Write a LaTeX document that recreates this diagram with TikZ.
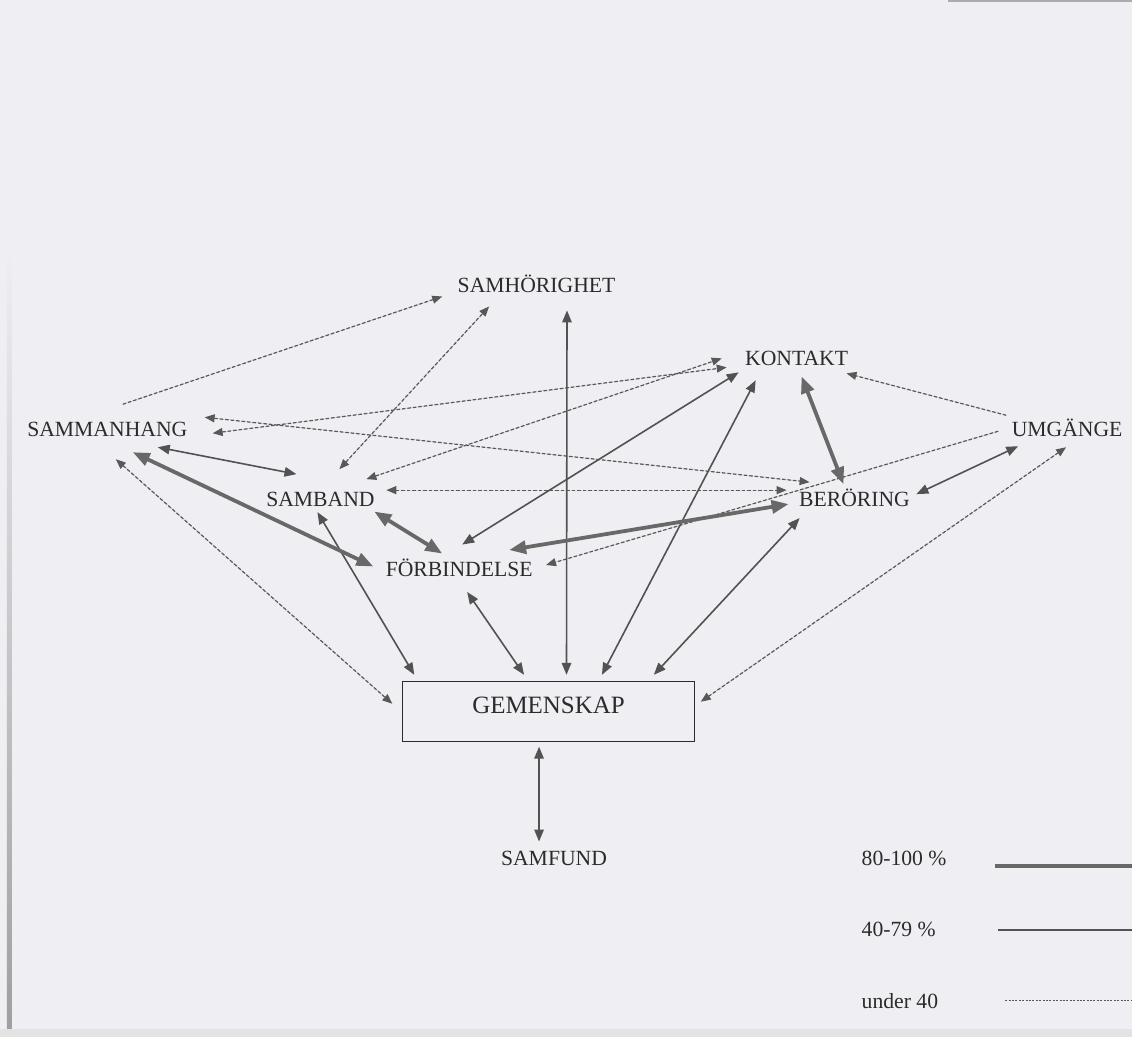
\documentclass[tikz,border=0pt]{standalone}
\usepackage{fontspec}
\setmainfont{Liberation Serif}
\usetikzlibrary{arrows.meta}
\definecolor{paper}{HTML}{EFEEF2}
\definecolor{ink}{HTML}{2B2B2B}
\definecolor{linegrey}{HTML}{525252}
\definecolor{thickgrey}{HTML}{686868}
\definecolor{dashgrey}{HTML}{585858}
\tikzset{
  lbl/.style={font=\fontsize{21.7}{24}\selectfont, text=ink, inner sep=0pt, text height=15pt, text depth=0pt},
  legtxt/.style={font=\fontsize{21.7}{24}\selectfont, text=ink, inner sep=0pt, anchor=base west},
  wtip/.tip={Triangle[length=10pt,width=8pt]},
  mtip/.tip={Triangle[length=12pt,width=9.5pt]},
  ttip/.tip={Triangle[length=17pt,width=13pt]},
  weak/.style={draw=dashgrey, fill=dashgrey, line width=1.2pt, dash pattern=on 3.5pt off 2pt},
  weakboth/.style={weak, wtip-wtip},
  weakend/.style={weak, -wtip},
  mid/.style={draw=linegrey, fill=linegrey, line width=1.6pt, mtip-mtip},
  strong/.style={draw=thickgrey, fill=thickgrey, line width=3.8pt, ttip-ttip},
}
\begin{document}
\begin{tikzpicture}[x=1pt,y=-1pt]
% paper
\fill[paper] (0,0) rectangle (1134,1039);
\shade[top color=paper, bottom color=gray!75] (7,250) rectangle (12,1031);
\fill[gray!22] (0,1031) rectangle (1134,1039);
\fill[gray!65] (950,0) rectangle (1134,2);

% nodes
\node[lbl] (sm) at (107.5,429.5) {SAMMANHANG};
\node[lbl] (sh) at (537.5,285.5) {SAMHÖRIGHET};
\node[lbl] (ko) at (798,358.5) {KONTAKT};
\node[lbl] (um) at (1069,429.5) {UMGÄNGE};
\node[lbl] (sb) at (321,499.5) {SAMBAND};
\node[lbl] (be) at (856,499.5) {BERÖRING};
\node[lbl] (fo) at (460,570.5) {FÖRBINDELSE};
\node[draw=ink, line width=1pt, minimum width=293pt, minimum height=60pt,
      font=\fontsize{25}{28}\selectfont, text=ink, text height=17pt, text depth=13pt,
      inner sep=0pt] (ge) at (549.5,713) {GEMENSKAP};
\node[lbl] (sf) at (555,859.5) {SAMFUND};

% under 40
\draw[weakend]  ([shift={(15.5,-24.5)}]sm.center) -- ([shift={(-94.5,11.5)}]sh.center);
\draw[weakboth] ([shift={(19,-29.5)}]sb.center) -- ([shift={(-47.5,21.5)}]sh.center);
\draw[weakboth] ([shift={(105.5,4.5)}]sm.center) -- ([shift={(-70,9.5)}]ko.center);
\draw[weakboth] ([shift={(46,-19.5)}]sb.center) -- ([shift={(-75,0.5)}]ko.center);
\draw[weakboth] ([shift={(97.5,-11.5)}]sm.center) -- ([shift={(-45,-16.5)}]be.center);
\draw[weakboth] ([shift={(66,-8.5)}]sb.center) -- ([shift={(-68,-8.5)}]be.center);
\draw[weakend]  ([shift={(-61,-13.5)}]um.center) -- ([shift={(50,15.5)}]ko.center);
\draw[weakend]  ([shift={(-69,2.5)}]um.center) -- ([shift={(87,-4.5)}]fo.center);
\draw[weakboth] ([shift={(8.5,30.5)}]sm.center) -- ([shift={(-156.5,-8)}]ge.center);
\draw[weakboth] ([shift={(-1,18.5)}]um.center) -- ([shift={(152.5,-10)}]ge.center);

% 40-79 %
\draw[mid] ([shift={(30.5,25.5)}]sh.center) -- ([shift={(18,-37)}]ge.center);
\draw[mid] ([shift={(-9.5,35)}]ge.center) -- ([shift={(-15,-16.5)}]sf.center);
\draw[mid] ([shift={(50.5,18.5)}]sm.center) -- ([shift={(-24,-24.5)}]sb.center);
\draw[mid] ([shift={(-3,13.5)}]sb.center) -- ([shift={(-134.5,-37)}]ge.center);
\draw[mid] ([shift={(3,-25)}]fo.center) -- ([shift={(-58,14.5)}]ko.center);
\draw[mid] ([shift={(-41,22.5)}]ko.center) -- ([shift={(53.5,-37)}]ge.center);
\draw[mid] ([shift={(8,22.5)}]fo.center) -- ([shift={(-24.5,-37)}]ge.center);
\draw[mid] ([shift={(-55,19.5)}]be.center) -- ([shift={(105.5,-37)}]ge.center);
\draw[mid] ([shift={(62,-4.5)}]be.center) -- ([shift={(-49,17.5)}]um.center);

% 80-100 %
\draw[strong] ([shift={(25.5,23.5)}]sm.center) -- ([shift={(-86,-3)}]fo.center);
\draw[strong] ([shift={(54,13)}]sb.center) -- ([shift={(-17,-16)}]fo.center);
\draw[strong] ([shift={(50,-19.5)}]fo.center) -- ([shift={(-66,5.5)}]be.center);
\draw[strong] ([shift={(5,18.5)}]ko.center) -- ([shift={(-11,-14.5)}]be.center);

% legend
\node[legtxt] (l1) at (863,867) {80-100 \%};
\node[legtxt] (l2) at (863,938) {40-79 \%};
\node[legtxt] (l3) at (863,1010) {under 40};
\coordinate (l1a) at (997,868); \coordinate (l1b) at (1134,868);
\coordinate (l2a) at (1000,932); \coordinate (l2b) at (1134,932);
\coordinate (l3a) at (1007,1002); \coordinate (l3b) at (1134,1002);
\draw[draw=thickgrey, line width=4pt] (l1a) -- (l1b);
\draw[draw=linegrey, line width=2pt] (l2a) -- (l2b);
\draw[draw=dashgrey, line width=0.9pt, dash pattern=on 2pt off 1.4pt] (l3a) -- (l3b);
\end{tikzpicture}
\end{document}
